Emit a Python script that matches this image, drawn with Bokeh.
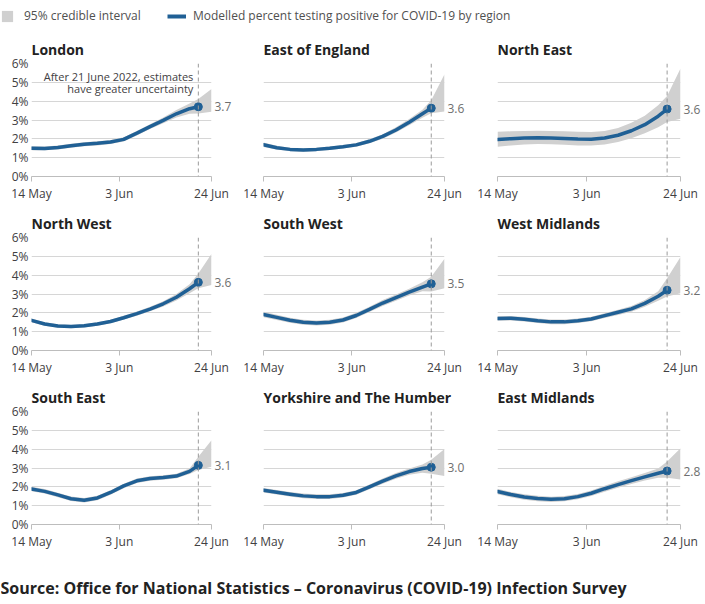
import pandas as pd
from bokeh.plotting import figure
from bokeh.models import Range1d, FixedTicker, Span, Label, Legend, LegendItem, LinearAxis
from bokeh.layouts import column, row
from bokeh.embed import file_html
from bokeh.resources import INLINE

# ---------------- data ----------------
DATES = ["2022-05-14", "2022-05-17", "2022-05-20", "2022-05-23", "2022-05-26",
         "2022-05-29", "2022-06-01", "2022-06-04", "2022-06-07", "2022-06-10",
         "2022-06-13", "2022-06-16", "2022-06-19", "2022-06-21"]
BAND_DATES = DATES + ["2022-06-24"]
CUTOFF = "2022-06-21"
X_TICKS = ["2022-05-14", "2022-06-03", "2022-06-24"]
X_TICK_LABELS = ["14 May", "3 Jun", "24 Jun"]
Y_TICKS = [0, 1, 2, 3, 4, 5, 6]
Y_TICK_LABELS = ["0%", "1%", "2%", "3%", "4%", "5%", "6%"]

REGIONS = ["London", "East of England", "North East",
           "North West", "South West", "West Midlands",
           "South East", "Yorkshire and The Humber", "East Midlands"]
LATEST = [3.7, 3.6, 3.6, 3.6, 3.5, 3.2, 3.1, 3.0, 2.8]

LONDON = [1.50, 1.49, 1.54, 1.63, 1.71, 1.76, 1.83, 1.97, 2.30, 2.65, 2.98, 3.33, 3.60, 3.70]
LONDON_LO = [1.40, 1.40, 1.44, 1.52, 1.60, 1.65, 1.72, 1.86, 2.18, 2.52, 2.83, 3.13, 3.33, 3.35, 3.44]
LONDON_HI = [1.60, 1.59, 1.64, 1.74, 1.82, 1.87, 1.94, 2.08, 2.42, 2.78, 3.13, 3.53, 3.88, 4.12, 4.64]

EAST_ENG = [1.69, 1.53, 1.44, 1.41, 1.44, 1.50, 1.58, 1.68, 1.87, 2.13, 2.47, 2.88, 3.33, 3.63]
EAST_ENG_LO = [1.57, 1.43, 1.35, 1.32, 1.35, 1.41, 1.49, 1.58, 1.76, 2.01, 2.33, 2.72, 3.12, 3.36, 3.45]
EAST_ENG_HI = [1.81, 1.63, 1.53, 1.50, 1.53, 1.59, 1.67, 1.78, 1.98, 2.25, 2.61, 3.05, 3.55, 4.05, 5.43]

NORTH_EAST = [1.96, 2.01, 2.04, 2.06, 2.05, 2.02, 1.99, 1.98, 2.04, 2.19, 2.43, 2.75, 3.20, 3.58]
NORTH_EAST_LO = [1.58, 1.65, 1.70, 1.72, 1.71, 1.68, 1.65, 1.64, 1.70, 1.83, 2.03, 2.29, 2.62, 2.90, 3.07]
NORTH_EAST_HI = [2.38, 2.40, 2.42, 2.43, 2.42, 2.40, 2.37, 2.36, 2.42, 2.58, 2.86, 3.23, 3.78, 4.28, 5.74]

NORTH_WEST = [1.60, 1.41, 1.30, 1.27, 1.31, 1.41, 1.54, 1.74, 1.96, 2.20, 2.48, 2.83, 3.28, 3.62]
NORTH_WEST_LO = [1.50, 1.32, 1.21, 1.18, 1.22, 1.32, 1.45, 1.64, 1.85, 2.08, 2.34, 2.66, 3.04, 3.30, 3.48]
NORTH_WEST_HI = [1.70, 1.50, 1.39, 1.36, 1.40, 1.50, 1.63, 1.84, 2.07, 2.32, 2.62, 3.00, 3.52, 4.09, 5.13]

SOUTH_WEST = [1.91, 1.76, 1.61, 1.50, 1.46, 1.50, 1.62, 1.86, 2.18, 2.52, 2.81, 3.10, 3.37, 3.54]
SOUTH_WEST_LO = [1.76, 1.62, 1.48, 1.37, 1.33, 1.37, 1.49, 1.72, 2.04, 2.36, 2.64, 2.92, 3.14, 3.13, 3.30]
SOUTH_WEST_HI = [2.06, 1.90, 1.74, 1.63, 1.59, 1.63, 1.75, 2.00, 2.32, 2.68, 2.98, 3.28, 3.62, 3.91, 4.87]

WEST_MID = [1.70, 1.71, 1.66, 1.58, 1.52, 1.52, 1.58, 1.67, 1.85, 2.03, 2.21, 2.50, 2.88, 3.20]
WEST_MID_LO = [1.58, 1.59, 1.54, 1.46, 1.40, 1.40, 1.46, 1.55, 1.72, 1.89, 2.06, 2.32, 2.64, 2.87, 3.04]
WEST_MID_HI = [1.82, 1.83, 1.78, 1.70, 1.64, 1.64, 1.70, 1.79, 1.98, 2.17, 2.36, 2.68, 3.14, 3.83, 4.96]

SOUTH_EAST = [1.88, 1.76, 1.57, 1.37, 1.29, 1.41, 1.70, 2.05, 2.32, 2.44, 2.49, 2.57, 2.82, 3.14]
SOUTH_EAST_LO = [1.76, 1.64, 1.45, 1.25, 1.17, 1.29, 1.58, 1.93, 2.20, 2.32, 2.37, 2.45, 2.68, 2.90, 3.07]
SOUTH_EAST_HI = [2.00, 1.88, 1.69, 1.49, 1.41, 1.53, 1.82, 2.17, 2.44, 2.56, 2.61, 2.69, 2.98, 3.60, 4.47]

YORKS = [1.82, 1.71, 1.61, 1.52, 1.48, 1.48, 1.55, 1.70, 2.00, 2.30, 2.58, 2.81, 2.97, 3.04]
YORKS_LO = [1.70, 1.59, 1.49, 1.40, 1.36, 1.36, 1.43, 1.58, 1.87, 2.16, 2.43, 2.64, 2.75, 2.69, 2.57]
YORKS_HI = [1.94, 1.83, 1.73, 1.64, 1.60, 1.60, 1.67, 1.82, 2.13, 2.44, 2.73, 2.98, 3.19, 3.44, 4.01]

EAST_MID = [1.75, 1.59, 1.46, 1.38, 1.34, 1.37, 1.48, 1.66, 1.90, 2.12, 2.33, 2.53, 2.72, 2.84]
EAST_MID_LO = [1.60, 1.45, 1.32, 1.24, 1.20, 1.23, 1.34, 1.51, 1.74, 1.95, 2.15, 2.33, 2.48, 2.48, 2.39]
EAST_MID_HI = [1.90, 1.73, 1.60, 1.52, 1.48, 1.51, 1.62, 1.81, 2.06, 2.29, 2.51, 2.73, 2.98, 3.35, 4.05]

VALUES = [LONDON, EAST_ENG, NORTH_EAST, NORTH_WEST, SOUTH_WEST, WEST_MID,
          SOUTH_EAST, YORKS, EAST_MID]
LOWER = [LONDON_LO, EAST_ENG_LO, NORTH_EAST_LO, NORTH_WEST_LO, SOUTH_WEST_LO,
         WEST_MID_LO, SOUTH_EAST_LO, YORKS_LO, EAST_MID_LO]
UPPER = [LONDON_HI, EAST_ENG_HI, NORTH_EAST_HI, NORTH_WEST_HI, SOUTH_WEST_HI,
         WEST_MID_HI, SOUTH_EAST_HI, YORKS_HI, EAST_MID_HI]

NOTE_LINES = ["After 21 June 2022, estimates", "have greater uncertainty"]
LEGEND_LABELS = ["95% credible interval",
                 "Modelled percent testing positive for COVID-19 by region"]
SOURCE = "Source: Office for National Statistics \u2013 Coronavirus (COVID-19) Infection Survey"

# ---------------- style ----------------
FONT = "Open Sans"
BLUE = "#206095"
BAND = "#d0d0d0"
GRID = "#d6d6d6"
AXIS = "#bdbdbd"
TXT = "#414042"

COL_W = [234, 233, 237]
COL_LB = [31, 29, 30]
COL_RB = [20, 20, 24]
PANEL_H = 174


def ms(s):
    return pd.Timestamp(s).value / 1e6


def make_panel(i):
    col = i % 3
    p = figure(width=COL_W[col], height=PANEL_H, x_axis_type="datetime",
               x_range=Range1d(ms(DATES[0]), ms(X_TICKS[-1])),
               y_range=Range1d(Y_TICKS[0], Y_TICKS[-1]),
               output_backend="svg", toolbar_location=None, tools="",
               min_border_left=COL_LB[col], min_border_right=COL_RB[col],
               min_border_top=33, min_border_bottom=24)
    p.outline_line_color = None
    p.background_fill_color = "white"
    p.border_fill_color = "white"
    p.xgrid.visible = False
    p.ygrid.ticker = FixedTicker(ticks=Y_TICKS)
    p.ygrid.grid_line_color = GRID
    p.ygrid.grid_line_width = 1

    p.title.text = REGIONS[i]
    p.title.align = "left"
    p.title.offset = 0
    p.title.standoff = 10
    p.title.text_font = FONT
    p.title.text_font_size = "14px"
    p.title.text_font_style = "bold"
    p.title.text_color = "#222222"

    xa = p.xaxis[0]
    xa.ticker = FixedTicker(ticks=[ms(t) for t in X_TICKS])
    xa.major_label_overrides = {ms(t): lab for t, lab in zip(X_TICKS, X_TICK_LABELS)}
    xa.axis_line_color = AXIS
    xa.major_tick_line_color = AXIS
    xa.major_tick_out = 5
    xa.major_tick_in = 0
    xa.minor_tick_line_color = None
    xa.major_label_standoff = 3
    xa.major_label_text_font = FONT
    xa.major_label_text_font_size = "12px"
    xa.major_label_text_color = TXT

    ya = p.yaxis[0]
    if col == 0:
        ya.ticker = FixedTicker(ticks=Y_TICKS)
        ya.major_label_overrides = {t: lab for t, lab in zip(Y_TICKS, Y_TICK_LABELS)}
        ya.axis_line_color = None
        ya.major_tick_line_color = None
        ya.minor_tick_line_color = None
        ya.major_tick_out = 0
        ya.major_tick_in = 0
        ya.major_label_standoff = 3
        ya.major_label_text_font = FONT
        ya.major_label_text_font_size = "12px"
        ya.major_label_text_color = TXT
    else:
        ya.visible = False

    # latest-value label as a right-hand axis with one tick
    last = VALUES[i][-1]
    ra = LinearAxis(ticker=FixedTicker(ticks=[last]),
                    major_label_overrides={last: f"{LATEST[i]:.1f}"},
                    axis_line_color=None, major_tick_line_color=None,
                    minor_tick_line_color=None, major_tick_out=0, major_tick_in=0,
                    major_label_standoff=3, major_label_text_font=FONT,
                    major_label_text_font_size="12px", major_label_text_color="#6e6e6e")
    p.add_layout(ra, "right")

    bx = [ms(d) for d in BAND_DATES]
    lx = [ms(d) for d in DATES]
    p.varea(x=bx, y1=LOWER[i], y2=UPPER[i], fill_color=BAND, fill_alpha=1.0)
    p.add_layout(Span(location=ms(CUTOFF), dimension="height", line_color="#9a9a9a",
                      line_dash="4 3", line_width=1))
    p.line(x=lx, y=VALUES[i], line_color=BLUE, line_width=3.5,
           line_cap="round", line_join="round")
    p.scatter(x=[lx[-1]], y=[last], size=8, color=BLUE)

    if i == 0:
        for yy, line in zip([5.30, 4.68], NOTE_LINES):
            p.add_layout(Label(x=ms(CUTOFF), y=yy, x_offset=-5, text=line,
                               text_align="right", text_baseline="middle",
                               text_font=FONT, text_font_size="11px",
                               text_color=TXT))
    return p


panels = [make_panel(i) for i in range(9)]

# ---------------- legend strip ----------------
lg = figure(width=704, height=30, x_range=Range1d(0, 1), y_range=Range1d(0, 1),
            output_backend="svg", toolbar_location=None, tools="",
            x_axis_location=None, y_axis_location=None, min_border=0)
lg.grid.visible = False
lg.outline_line_color = None
# hidden renderers (London series) only supply the legend swatches
lx0 = [ms(d) for d in BAND_DATES]
band_r = lg.varea(x=lx0, y1=LOWER[0], y2=UPPER[0], fill_color=BAND, fill_alpha=1.0,
                  visible=False)
line_r = lg.line(x=[ms(d) for d in DATES], y=VALUES[0], line_color=BLUE, line_width=4,
                 visible=False)
common = dict(orientation="horizontal", glyph_height=14, padding=0, margin=0,
              border_line_color=None, background_fill_alpha=0,
              label_text_font=FONT, label_text_font_size="12px",
              label_text_color="#505050", label_height=14)
lg.add_layout(Legend(items=[LegendItem(label=LEGEND_LABELS[0], renderers=[band_r])],
                     location=(0, 6), glyph_width=14, label_standoff=10, **common))
lg.add_layout(Legend(items=[LegendItem(label=LEGEND_LABELS[1], renderers=[line_r])],
                     location=(167, 6), glyph_width=19, label_standoff=7, **common))

# ---------------- source strip ----------------
src = figure(width=704, height=50, x_range=Range1d(0, 1), y_range=Range1d(0, 1),
             output_backend="svg", toolbar_location=None, tools="",
             x_axis_location=None, y_axis_location=None, min_border=0)
src.grid.visible = False
src.outline_line_color = None
src.add_layout(Label(x=0, y=15, x_units="screen", y_units="screen", text=SOURCE,
                     text_baseline="middle", text_font=FONT, text_font_size="16px",
                     text_font_style="bold", text_color="#222222"))

layout = column(lg,
                row(*panels[0:3]),
                row(*panels[3:6]),
                row(*panels[6:9]),
                src)

open("out.html", "w").write(file_html(layout, INLINE))
